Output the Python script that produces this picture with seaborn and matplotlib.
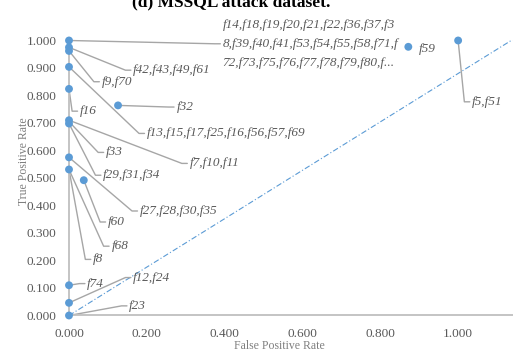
import matplotlib
matplotlib.use("Agg")
import matplotlib.pyplot as plt
import seaborn as sns
import pandas as pd

# points: false positive rate / true positive rate
fpr = [0.0, 0.0, 0.0, 0.0, 0.0, 0.126, 0.0, 0.0, 0.0, 0.0, 0.038, 0.0, 0.0, 0.0, 0.872, 1.0]
tpr = [1.0, 0.975, 0.962, 0.904, 0.824, 0.764, 0.71, 0.698, 0.575, 0.531, 0.492, 0.11, 0.046, 0.0, 0.977, 1.0]

# data labels: text, point it belongs to, label anchor
labels = [
    "f14,f18,f19,f20,f21,f22,f36,f37,f3\n8,f39,f40,f41,f53,f54,f55,f58,f71,f\n72,f73,f75,f76,f77,f78,f79,f80,f...",
    "f42,f43,f49,f61", "f9,f70", "f13,f15,f17,f25,f16,f56,f57,f69", "f16", "f32",
    "f7,f10,f11", "f33", "f29,f31,f34", "f27,f28,f30,f35", "f68", "f8", "f60",
    "f74", "f12,f24", "f23", "f59", "f5,f51",
]
label_fpr = [0.0, 0.0, 0.0, 0.0, 0.0, 0.126, 0.0, 0.0, 0.0, 0.0, 0.0, 0.0, 0.038, 0.0, 0.0, 0.0, 0.872, 1.0]
label_tpr = [1.0, 0.975, 0.962, 0.904, 0.824, 0.764, 0.71, 0.705, 0.698, 0.575, 0.531, 0.531, 0.492, 0.11, 0.046, 0.0, 0.977, 1.0]
label_x = [0.395, 0.165, 0.084, 0.2, 0.028, 0.276, 0.31, 0.095, 0.088, 0.182, 0.109, 0.062, 0.1, 0.047, 0.165, 0.155, 0.9, 1.036]
label_y = [0.988, 0.892, 0.85, 0.662, 0.743, 0.758, 0.553, 0.593, 0.51, 0.38, 0.252, 0.204, 0.34, 0.116, 0.138, 0.035, 0.97, 0.777]
has_leader = [True] * 16 + [False, True]

diag_x = [0.0, 1.2]
diag_y = [0.0, 1.056]

xticks = [0.0, 0.2, 0.4, 0.6, 0.8, 1.0]
yticks = [0.0, 0.1, 0.2, 0.3, 0.4, 0.5, 0.6, 0.7, 0.8, 0.9, 1.0]

sns.set_style("white")
plt.rcParams["font.family"] = ["Liberation Serif", "DejaVu Serif"]

blue = "#5b9bd5"
grey_text = "#595959"
leader_col = "#a6a6a6"

fig = plt.figure(figsize=(5.13, 3.49), dpi=100)
ax = fig.add_axes([0.1345, 0.096, 0.8655, 0.788])

df = pd.DataFrame({"fpr": fpr, "tpr": tpr})
diag = pd.DataFrame({"x": diag_x, "y": diag_y})

sns.lineplot(data=diag, x="x", y="y", ax=ax, color=blue, lw=0.8,
             linestyle=(0, (5, 2, 1, 2)))

# leader lines: diagonal run to the label, then a short horizontal stub
stub, gap = 0.02, 0.006
for px, py, lx, ly, lead in zip(label_fpr, label_tpr, label_x, label_y, has_leader):
    if not lead:
        continue
    ax.plot([px, lx - stub, lx - gap], [py, ly, ly], color=leader_col, lw=1.0,
            clip_on=False, zorder=2)

sns.scatterplot(data=df, x="fpr", y="tpr", ax=ax, color=blue, s=32,
                edgecolor="none", zorder=4, clip_on=False)

for txt, lx, ly in zip(labels, label_x, label_y):
    ax.text(lx, ly, txt, fontsize=9.5, style="italic", color=grey_text,
            ha="left", va="center", linespacing=1.75, clip_on=False)

ax.set_xlim(0, 1.141)
ax.set_ylim(0, 1.0)
ax.set_xticks(xticks)
ax.set_yticks(yticks)
ax.set_xticklabels([f"{v:.3f}" for v in xticks])
ax.set_yticklabels([f"{v:.3f}" for v in yticks])
ax.tick_params(axis="both", length=0, labelsize=9.5, labelcolor=grey_text)
ax.tick_params(axis="x", pad=9)
ax.tick_params(axis="y", pad=9)

for side in ["top", "right"]:
    ax.spines[side].set_visible(False)
for side in ["left", "bottom"]:
    ax.spines[side].set_color("#bfbfbf")
    ax.spines[side].set_linewidth(1.3)

ax.set_xlabel("False Positive Rate", fontsize=8.5, color="#7f7f7f")
ax.set_ylabel("True Positive Rate", fontsize=8.5, color="#7f7f7f")
ax.xaxis.set_label_coords(0.473, -0.088)
ax.xaxis.label.set_va("top")
ax.yaxis.set_label_coords(-0.101, 0.562)
ax.yaxis.label.set_va("center")

fig.text(0.45, 1 - 6.5 / 349, "(d) MSSQL attack dataset.", fontsize=12.5,
         fontweight="bold", ha="center", va="baseline", color="black")

fig.savefig("out.png", dpi=100)
